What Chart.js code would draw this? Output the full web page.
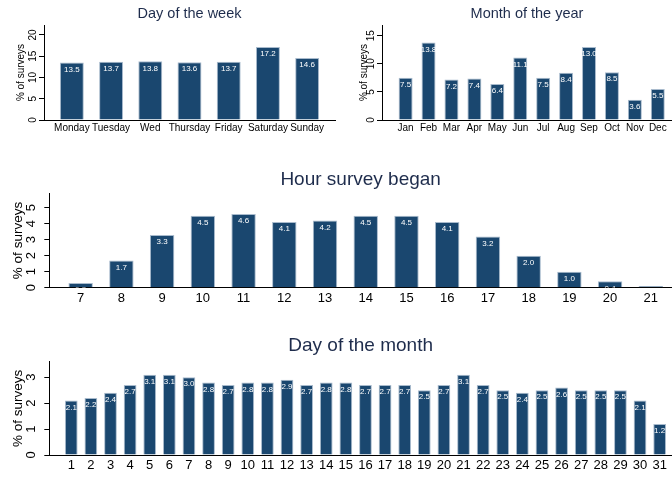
<!DOCTYPE html>
<html>
<head>
<meta charset="utf-8">
<script src="https://cdn.jsdelivr.net/npm/chart.js@4.4.1/dist/chart.umd.min.js"></script>
<style>
  html, body { margin: 0; padding: 0; background: #ffffff; }
  body { width: 672px; height: 477px; position: relative; overflow: hidden; }
  canvas { position: absolute; }
</style>
</head>
<body>
<canvas id="weekday" width="336" height="140" style="left:0;top:0;width:336px;height:140px"></canvas>
<canvas id="month" width="336" height="140" style="left:336px;top:0;width:336px;height:140px"></canvas>
<canvas id="hour" width="672" height="150" style="left:0;top:160px;width:672px;height:150px"></canvas>
<canvas id="dayOfMonth" width="672" height="147" style="left:0;top:330px;width:672px;height:147px"></canvas>
<script>
// Share of surveys (%) by when they were taken
const weekdayLabels = ['Monday', 'Tuesday', 'Wed', 'Thursday', 'Friday', 'Saturday', 'Sunday'];
const weekdayShare = [13.5, 13.7, 13.8, 13.6, 13.7, 17.2, 14.6];

const monthLabels = ['Jan', 'Feb', 'Mar', 'Apr', 'May', 'Jun', 'Jul', 'Aug', 'Sep', 'Oct', 'Nov', 'Dec'];
const monthShare = [7.5, 13.8, 7.2, 7.4, 6.4, 11.1, 7.5, 8.4, 13.0, 8.5, 3.6, 5.5];

const hourLabels = ['7', '8', '9', '10', '11', '12', '13', '14', '15', '16', '17', '18', '19', '20', '21'];
const hourShare = [0.3, 1.7, 3.3, 4.5, 4.6, 4.1, 4.2, 4.5, 4.5, 4.1, 3.2, 2.0, 1.0, 0.4, 0.1];

const dayLabels = ['1', '2', '3', '4', '5', '6', '7', '8', '9', '10', '11', '12', '13', '14', '15', '16',
  '17', '18', '19', '20', '21', '22', '23', '24', '25', '26', '27', '28', '29', '30', '31'];
const dayShare = [2.1, 2.2, 2.4, 2.7, 3.1, 3.1, 3.0, 2.8, 2.7, 2.8, 2.8, 2.9, 2.7, 2.8, 2.8, 2.7,
  2.7, 2.7, 2.5, 2.7, 3.1, 2.7, 2.5, 2.4, 2.5, 2.6, 2.5, 2.5, 2.5, 2.1, 1.2];

const FONT = '"Liberation Sans", Arial, Helvetica, sans-serif';
Chart.defaults.font.family = FONT;
Chart.defaults.color = '#000000';

const BAR_FILL = '#1a476f';
const BAR_EDGE = '#a9bbcd';
const TITLE_COLOR = '#1e2c4c';

// White value labels just inside the top of every bar, clipped to the plot area
const valueLabels = {
  id: 'valueLabels',
  afterDatasetsDraw(chart, args, opts) {
    const { ctx, chartArea } = chart;
    const meta = chart.getDatasetMeta(0);
    const ds = chart.data.datasets[0];
    ctx.save();
    ctx.beginPath();
    ctx.rect(chartArea.left, chartArea.top, chartArea.right - chartArea.left, chartArea.bottom - chartArea.top);
    ctx.clip();
    ctx.fillStyle = '#ffffff';
    ctx.font = opts.size + 'px ' + FONT;
    ctx.textAlign = 'center';
    ctx.textBaseline = 'top';
    meta.data.forEach((bar, i) => {
      ctx.fillText(ds.data[i].y.toFixed(1), bar.x, bar.y + opts.offset);
    });
    ctx.restore();
  }
};

function barPanel(id, p) {
  const points = p.values.map((v, i) => ({ x: i, y: v }));
  return new Chart(document.getElementById(id), {
    type: 'bar',
    data: {
      datasets: [{
        data: points,
        backgroundColor: BAR_FILL,
        borderColor: BAR_EDGE,
        borderWidth: 1,
        categoryPercentage: 1,
        barPercentage: p.barPct
      }]
    },
    options: {
      responsive: false,
      animation: false,
      devicePixelRatio: 1,
      layout: { padding: { left: 0, right: p.padRight, top: 0, bottom: 0 } },
      plugins: {
        legend: { display: false },
        tooltip: { enabled: false },
        title: {
          display: true,
          text: p.title,
          fullSize: false,
          color: TITLE_COLOR,
          font: { size: p.titleSize, weight: 'normal', family: FONT },
          padding: p.titlePad
        },
        valueLabels: { size: p.labelSize, offset: 3 }
      },
      scales: {
        x: {
          type: 'linear',
          offset: false,
          min: p.xMin,
          max: p.xMax,
          afterFit(s) { s.height = p.xAxisHeight; },
          grid: { display: false, offset: false, drawTicks: false, tickLength: 0 },
          border: { display: true, color: '#000000', width: 1 },
          ticks: {
            stepSize: 1,
            includeBounds: false,
            autoSkip: false,
            maxRotation: 0,
            minRotation: 0,
            padding: p.xTickPad,
            color: '#000000',
            font: { size: p.xTickSize },
            callback: (v) => (Number.isInteger(v) && p.labels[v] !== undefined ? p.labels[v] : '')
          }
        },
        y: {
          min: 0,
          max: p.yMax,
          afterFit(s) { s.width = p.yAxisWidth; },
          grid: { display: true, drawOnChartArea: false, drawTicks: true, tickLength: 5, color: '#000000', lineWidth: 1 },
          border: { display: true, color: '#000000', width: 1 },
          ticks: {
            stepSize: p.yStep,
            includeBounds: false,
            minRotation: 90,
            maxRotation: 90,
            crossAlign: 'center',
            padding: p.yTickPad,
            color: '#000000',
            font: { size: p.yTickSize }
          },
          title: {
            display: true,
            text: '% of surveys',
            color: '#000000',
            font: { size: p.yTitleSize },
            padding: { top: p.yTitlePad, bottom: 0 }
          }
        }
      }
    },
    plugins: [valueLabels]
  });
}

barPanel('weekday', {
  title: 'Day of the week', labels: weekdayLabels, values: weekdayShare,
  titleSize: 14.5, titlePad: { top: 5.3, bottom: 2.3 },
  xMin: -0.71, xMax: 6.71, barPct: 0.61, padRight: 1,
  yMax: 22.35, yStep: 5,
  xAxisHeight: 20, yAxisWidth: 44,
  xTickSize: 10, xTickPad: 2, yTickSize: 10, yTickPad: 0.5,
  yTitleSize: 10, yTitlePad: 15, labelSize: 8
});

barPanel('month', {
  title: 'Month of the year', labels: monthLabels, values: monthShare,
  titleSize: 14.5, titlePad: { top: 5.3, bottom: 2.3 },
  xMin: -1.03, xMax: 11.62, barPct: 0.61, padRight: 0,
  yMax: 16.9, yStep: 5,
  xAxisHeight: 20, yAxisWidth: 46,
  xTickSize: 10, xTickPad: 2, yTickSize: 10, yTickPad: 0,
  yTitleSize: 10, yTitlePad: 22, labelSize: 8
});

barPanel('hour', {
  title: 'Hour survey began', labels: hourLabels, values: hourShare,
  titleSize: 19, titlePad: { top: 8.6, bottom: 1.9 },
  xMin: -0.77, xMax: 14.52, barPct: 0.6, padRight: 0,
  yMax: 5.9, yStep: 1,
  xAxisHeight: 22.3, yAxisWidth: 49.3,
  xTickSize: 13, xTickPad: 2.5, yTickSize: 13, yTickPad: 9,
  yTitleSize: 13.5, yTitlePad: 10.2, labelSize: 8
});

barPanel('dayOfMonth', {
  title: 'Day of the month', labels: dayLabels, values: dayShare,
  titleSize: 19, titlePad: { top: 4.6, bottom: 4.3 },
  xMin: -1.12, xMax: 30.63, barPct: 0.65, padRight: 0,
  yMax: 3.6, yStep: 1,
  xAxisHeight: 22, yAxisWidth: 49.3,
  xTickSize: 13, xTickPad: 2.7, yTickSize: 13, yTickPad: 9,
  yTitleSize: 13.5, yTitlePad: 10.2, labelSize: 8
});
</script>
</body>
</html>
